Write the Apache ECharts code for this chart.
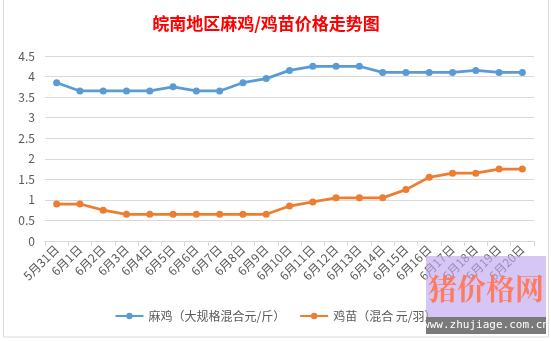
<!DOCTYPE html>
<html>
<head>
<meta charset="utf-8">
<script src="https://cdn.jsdelivr.net/npm/echarts@6/dist/echarts.min.js"></script>
<style>
  html, body { margin: 0; padding: 0; background: #fff; }
  #chart { width: 551px; height: 341px; }
</style>
</head>
<body>
<div id="chart"></div>
<script>
// 日期（5月31日—6月20日）
const dates = ['5月31日', '6月1日', '6月2日', '6月3日', '6月4日', '6月5日', '6月6日', '6月7日',
  '6月8日', '6月9日', '6月10日', '6月11日', '6月12日', '6月13日', '6月14日', '6月15日',
  '6月16日', '6月17日', '6月18日', '6月19日', '6月20日'];

// 麻鸡（大规格混合 元/斤）
const maji = [3.85, 3.65, 3.65, 3.65, 3.65, 3.75, 3.65, 3.65, 3.85, 3.95, 4.15,
  4.25, 4.25, 4.25, 4.1, 4.1, 4.1, 4.1, 4.15, 4.1, 4.1];

// 鸡苗（混合 元/羽）
const jimiao = [0.9, 0.9, 0.75, 0.65, 0.65, 0.65, 0.65, 0.65, 0.65, 0.65, 0.85,
  0.95, 1.05, 1.05, 1.05, 1.25, 1.55, 1.65, 1.65, 1.75, 1.75];

const seriesNames = ['麻鸡（大规格混合元/斤）', '鸡苗（混合 元/羽）'];
const yTicks = { min: 0, max: 4.5, interval: 0.5 };

const labelColor = '#595959';
const gridColor = '#d9d9d9';
const font = '"Noto Sans CJK SC", "Microsoft YaHei", sans-serif';

const chart = echarts.init(document.getElementById('chart'));
chart.setOption({
  animation: false,
  textStyle: { fontFamily: font },
  title: {
    text: '皖南地区麻鸡/鸡苗价格走势图',
    left: 261,
    top: 10,
    textAlign: 'center',
    textStyle: { color: '#ff0000', fontSize: 17, fontWeight: 'bold', fontFamily: font }
  },
  legend: {
    bottom: 14,
    left: 'center',
    itemWidth: 28,
    itemHeight: 8,
    itemGap: 14,
    textStyle: { color: labelColor, fontSize: 12, fontFamily: font },
    data: seriesNames
  },
  grid: { left: 45, right: 17, top: 56, bottom: 100 },
  xAxis: {
    type: 'category',
    data: dates,
    boundaryGap: true,
    axisLine: { lineStyle: { color: gridColor, width: 1 } },
    axisTick: { show: true, length: 5, lineStyle: { color: gridColor } },
    axisLabel: { rotate: 45, color: labelColor, fontSize: 12, margin: 6, interval: 0 }
  },
  yAxis: {
    type: 'value',
    min: yTicks.min,
    max: yTicks.max,
    interval: yTicks.interval,
    axisLine: { show: false },
    axisTick: { show: false },
    axisLabel: { color: labelColor, fontSize: 12, margin: 10 },
    splitLine: { lineStyle: { color: gridColor, width: 1 } }
  },
  series: [
    {
      name: seriesNames[0],
      type: 'line',
      data: maji,
      color: '#5b9bd5',
      symbol: 'circle',
      symbolSize: 7,
      lineStyle: { width: 2.75 }
    },
    {
      name: seriesNames[1],
      type: 'line',
      data: jimiao,
      color: '#ed7d31',
      symbol: 'circle',
      symbolSize: 7,
      lineStyle: { width: 2.75 }
    }
  ],
  graphic: [
    // 图表外框
    {
      type: 'rect', silent: true, z: -1,
      shape: { x: 3.5, y: -1, width: 545, height: 338 },
      style: { fill: null, stroke: '#d9d9d9', lineWidth: 1 }
    },
    // 右下角网站标识
    {
      type: 'rect', silent: true, z: 100,
      shape: { x: 426, y: 256, width: 120, height: 61 },
      style: { fill: 'rgba(190, 168, 240, 0.65)' }
    },
    {
      type: 'text', silent: true, z: 101,
      style: {
        x: 486, y: 289, text: '猪价格网', align: 'center', verticalAlign: 'middle',
        fill: 'rgba(255, 120, 90, 0.95)', font: 'bold 29px "Noto Serif CJK SC", "Noto Sans CJK SC", serif'
      }
    },
    {
      type: 'rect', silent: true, z: 100,
      shape: { x: 426, y: 317, width: 120, height: 17 },
      style: { fill: '#7a7a7a' }
    },
    {
      type: 'text', silent: true, z: 101,
      style: {
        x: 486, y: 325.5, text: 'www.zhujiage.com.cn', align: 'center', verticalAlign: 'middle',
        fill: '#ffffff', font: '11px "DejaVu Sans Mono", "Liberation Mono", monospace'
      }
    }
  ]
});
</script>
</body>
</html>
